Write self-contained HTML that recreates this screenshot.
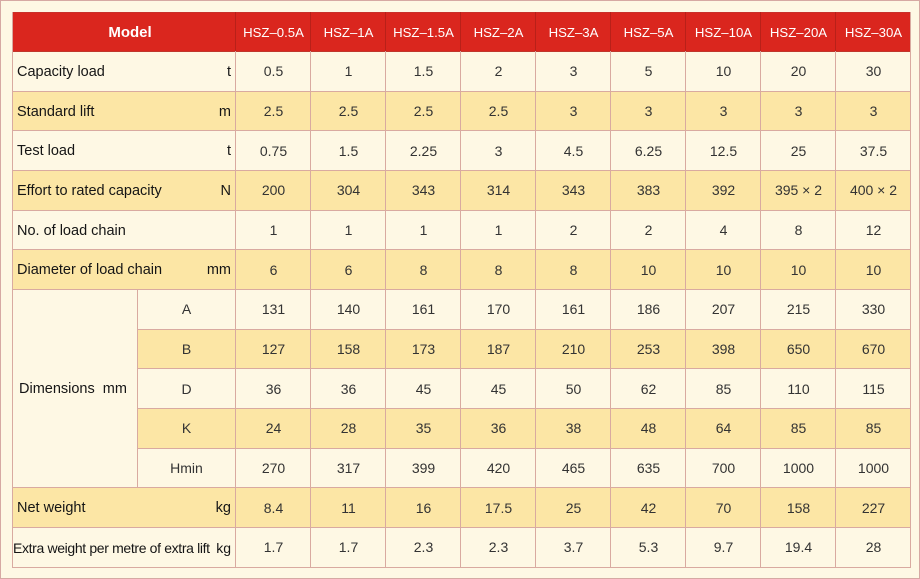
<!DOCTYPE html>
<html><head><meta charset="utf-8"><style>
html,body{margin:0;padding:0}
body{width:920px;height:579px;position:relative;overflow:hidden;background:#fef8e4;font-family:"Liberation Sans",Arial,sans-serif}
.frame{position:absolute;left:0;top:0;width:918px;height:577px;border:1px solid #d6a9a3}
.bg{position:absolute}
.h{position:absolute;height:1px;background:#d9aaa0}
.v{position:absolute;width:1px;background:#d9aaa0}
.row{position:absolute;left:236px;height:39.64px;display:flex}
.row span{width:75px;display:flex;align-items:center;justify-content:center;font-size:14px;color:#333}
.hdr span{color:#fff;font-size:13.2px}
.lab{position:absolute;left:17px;width:214px;height:39.64px;display:flex;align-items:center;justify-content:space-between;font-size:14.5px;color:#151515;padding-top:1px;box-sizing:border-box}
.dl{position:absolute;left:137px;width:99px;height:39.64px;display:flex;align-items:center;justify-content:center;font-size:14px;color:#333}
</style></head><body>
<div class="frame"></div>
<!-- backgrounds -->
<div class="bg" style="left:12px;top:12px;width:899px;height:40px;background:#da261e"></div>
<div class="bg" style="left:12px;top:91.3px;width:899px;height:39.64px;background:#fce6a5"></div>
<div class="bg" style="left:12px;top:170.6px;width:899px;height:39.64px;background:#fce6a5"></div>
<div class="bg" style="left:12px;top:249.9px;width:899px;height:39.64px;background:#fce6a5"></div>
<div class="bg" style="left:137px;top:329.1px;width:774px;height:39.64px;background:#fce6a5"></div>
<div class="bg" style="left:137px;top:408.4px;width:774px;height:39.64px;background:#fce6a5"></div>
<div class="bg" style="left:12px;top:487.7px;width:899px;height:39.64px;background:#fce6a5"></div>

<!-- horizontal lines -->
<div class="h" style="left:12px;top:12px;width:899px;background:#c9302a"></div>
<div class="h" style="left:12px;top:51px;width:899px;background:#c0372c"></div>
<div class="h" style="left:12px;top:90.8px;width:899px"></div>
<div class="h" style="left:12px;top:130.4px;width:899px"></div>
<div class="h" style="left:12px;top:170.1px;width:899px"></div>
<div class="h" style="left:12px;top:209.7px;width:899px"></div>
<div class="h" style="left:12px;top:249.4px;width:899px"></div>
<div class="h" style="left:12px;top:289px;width:899px"></div>
<div class="h" style="left:137px;top:328.6px;width:774px"></div>
<div class="h" style="left:137px;top:368.3px;width:774px"></div>
<div class="h" style="left:137px;top:407.9px;width:774px"></div>
<div class="h" style="left:137px;top:447.6px;width:774px"></div>
<div class="h" style="left:12px;top:487.2px;width:899px"></div>
<div class="h" style="left:12px;top:526.9px;width:899px"></div>
<div class="h" style="left:12px;top:566.5px;width:899px"></div>

<!-- vertical lines -->
<div class="v" style="left:12px;top:12px;height:555px"></div>
<div class="v" style="left:136.5px;top:289px;height:198.7px"></div>
<div class="v" style="left:235px;top:12px;height:555px"></div>
<div class="v" style="left:310px;top:12px;height:555px"></div>
<div class="v" style="left:385px;top:12px;height:555px"></div>
<div class="v" style="left:460px;top:12px;height:555px"></div>
<div class="v" style="left:535px;top:12px;height:555px"></div>
<div class="v" style="left:610px;top:12px;height:555px"></div>
<div class="v" style="left:685px;top:12px;height:555px"></div>
<div class="v" style="left:760px;top:12px;height:555px"></div>
<div class="v" style="left:835px;top:12px;height:555px"></div>
<div class="v" style="left:910px;top:12px;height:555px"></div>
<!-- header separators darker -->
<div class="v" style="left:235px;top:12px;height:39px;background:#b92019"></div>
<div class="v" style="left:310px;top:12px;height:39px;background:#b92019"></div>
<div class="v" style="left:385px;top:12px;height:39px;background:#b92019"></div>
<div class="v" style="left:460px;top:12px;height:39px;background:#b92019"></div>
<div class="v" style="left:535px;top:12px;height:39px;background:#b92019"></div>
<div class="v" style="left:610px;top:12px;height:39px;background:#b92019"></div>
<div class="v" style="left:685px;top:12px;height:39px;background:#b92019"></div>
<div class="v" style="left:760px;top:12px;height:39px;background:#b92019"></div>
<div class="v" style="left:835px;top:12px;height:39px;background:#b92019"></div>

<!-- header -->
<div style="position:absolute;left:12px;top:12px;width:236px;height:40px;display:flex;align-items:center;justify-content:center;color:#fff;font-weight:bold;font-size:15px">Model</div>
<div class="row hdr" style="top:12px;height:40px"><span>HSZ–0.5A</span><span>HSZ–1A</span><span>HSZ–1.5A</span><span>HSZ–2A</span><span>HSZ–3A</span><span>HSZ–5A</span><span>HSZ–10A</span><span>HSZ–20A</span><span>HSZ–30A</span></div>

<!-- labels -->
<div class="lab" style="top:51.64px"><span>Capacity load</span><span>t</span></div>
<div class="lab" style="top:91.29px"><span>Standard lift</span><span>m</span></div>
<div class="lab" style="top:130.93px"><span>Test load</span><span>t</span></div>
<div class="lab" style="top:170.57px"><span>Effort to rated capacity</span><span>N</span></div>
<div class="lab" style="top:210.21px"><span>No. of load chain</span><span></span></div>
<div class="lab" style="top:249.86px"><span>Diameter of load chain</span><span>mm</span></div>
<div class="lab" style="left:19px;width:116px;top:368.79px;justify-content:flex-start"><span>Dimensions&nbsp; mm</span></div>
<div class="dl" style="top:289.5px">A</div>
<div class="dl" style="top:329.14px">B</div>
<div class="dl" style="top:368.79px">D</div>
<div class="dl" style="top:408.43px">K</div>
<div class="dl" style="top:448.07px">Hmin</div>
<div class="lab" style="top:487.71px"><span>Net weight</span><span>kg</span></div>
<div class="lab" style="left:13px;width:218px;top:527.36px;font-size:14px"><span style="letter-spacing:-0.35px">Extra weight per metre of extra lift</span><span>kg</span></div>

<!-- data -->
<div class="row" style="top:51.64px"><span>0.5</span><span>1</span><span>1.5</span><span>2</span><span>3</span><span>5</span><span>10</span><span>20</span><span>30</span></div>
<div class="row" style="top:91.29px"><span>2.5</span><span>2.5</span><span>2.5</span><span>2.5</span><span>3</span><span>3</span><span>3</span><span>3</span><span>3</span></div>
<div class="row" style="top:130.93px"><span>0.75</span><span>1.5</span><span>2.25</span><span>3</span><span>4.5</span><span>6.25</span><span>12.5</span><span>25</span><span>37.5</span></div>
<div class="row" style="top:170.57px"><span>200</span><span>304</span><span>343</span><span>314</span><span>343</span><span>383</span><span>392</span><span>395 × 2</span><span>400 × 2</span></div>
<div class="row" style="top:210.21px"><span>1</span><span>1</span><span>1</span><span>1</span><span>2</span><span>2</span><span>4</span><span>8</span><span>12</span></div>
<div class="row" style="top:249.86px"><span>6</span><span>6</span><span>8</span><span>8</span><span>8</span><span>10</span><span>10</span><span>10</span><span>10</span></div>
<div class="row" style="top:289.5px"><span>131</span><span>140</span><span>161</span><span>170</span><span>161</span><span>186</span><span>207</span><span>215</span><span>330</span></div>
<div class="row" style="top:329.14px"><span>127</span><span>158</span><span>173</span><span>187</span><span>210</span><span>253</span><span>398</span><span>650</span><span>670</span></div>
<div class="row" style="top:368.79px"><span>36</span><span>36</span><span>45</span><span>45</span><span>50</span><span>62</span><span>85</span><span>110</span><span>115</span></div>
<div class="row" style="top:408.43px"><span>24</span><span>28</span><span>35</span><span>36</span><span>38</span><span>48</span><span>64</span><span>85</span><span>85</span></div>
<div class="row" style="top:448.07px"><span>270</span><span>317</span><span>399</span><span>420</span><span>465</span><span>635</span><span>700</span><span>1000</span><span>1000</span></div>
<div class="row" style="top:487.71px"><span>8.4</span><span>11</span><span>16</span><span>17.5</span><span>25</span><span>42</span><span>70</span><span>158</span><span>227</span></div>
<div class="row" style="top:527.36px"><span>1.7</span><span>1.7</span><span>2.3</span><span>2.3</span><span>3.7</span><span>5.3</span><span>9.7</span><span>19.4</span><span>28</span></div>
</body></html>
